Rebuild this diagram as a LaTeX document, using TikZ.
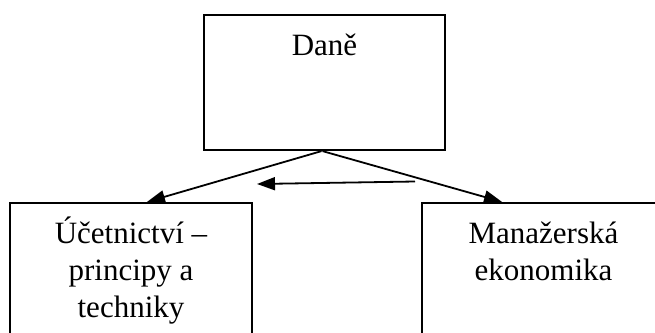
\documentclass[tikz,border=0pt]{standalone}
\usepackage{fontspec}
\setmainfont{Liberation Serif}
\usetikzlibrary{arrows.meta}
\begin{document}
\begin{tikzpicture}[x=1pt,y=-1pt,
  box/.style={draw=black, line width=2.2pt, rectangle, inner sep=0pt},
  lbl/.style={font=\fontsize{31}{37}\selectfont, align=center, anchor=base, inner sep=0pt},
  conn/.style={draw=black, line width=1.8pt, -{Triangle[length=18pt,width=13pt]}}]
\useasboundingbox (0,0) rectangle (655,332);
\clip (0,0) rectangle (655,332);
\node[box, minimum width=241pt, minimum height=135pt] (dane) at (324.5,82.5) {};
\node[box, minimum width=242pt, minimum height=150pt] (ucet) at (131,278) {};
\node[box, minimum width=243pt, minimum height=150pt] (mana) at (543.5,278) {};
\node[lbl] (daneT) at (324.5,55) {Daně};
\node[lbl] (ucetT) at (131,317) {Účetnictví –\\principy a\\techniky};
\node[lbl] (manaT) at (543.5,280) {Manažerská\\ekonomika};
\draw[conn] ([xshift=-3pt]dane.south) -- ([xshift=16pt]ucet.north);
\draw[conn] ([xshift=-2pt]dane.south) -- ([xshift=-41.5pt]mana.north);
\coordinate (hs) at (415,181.5);
\coordinate (he) at (257,184);
\draw[conn] (hs) -- (he);
\end{tikzpicture}
\end{document}
